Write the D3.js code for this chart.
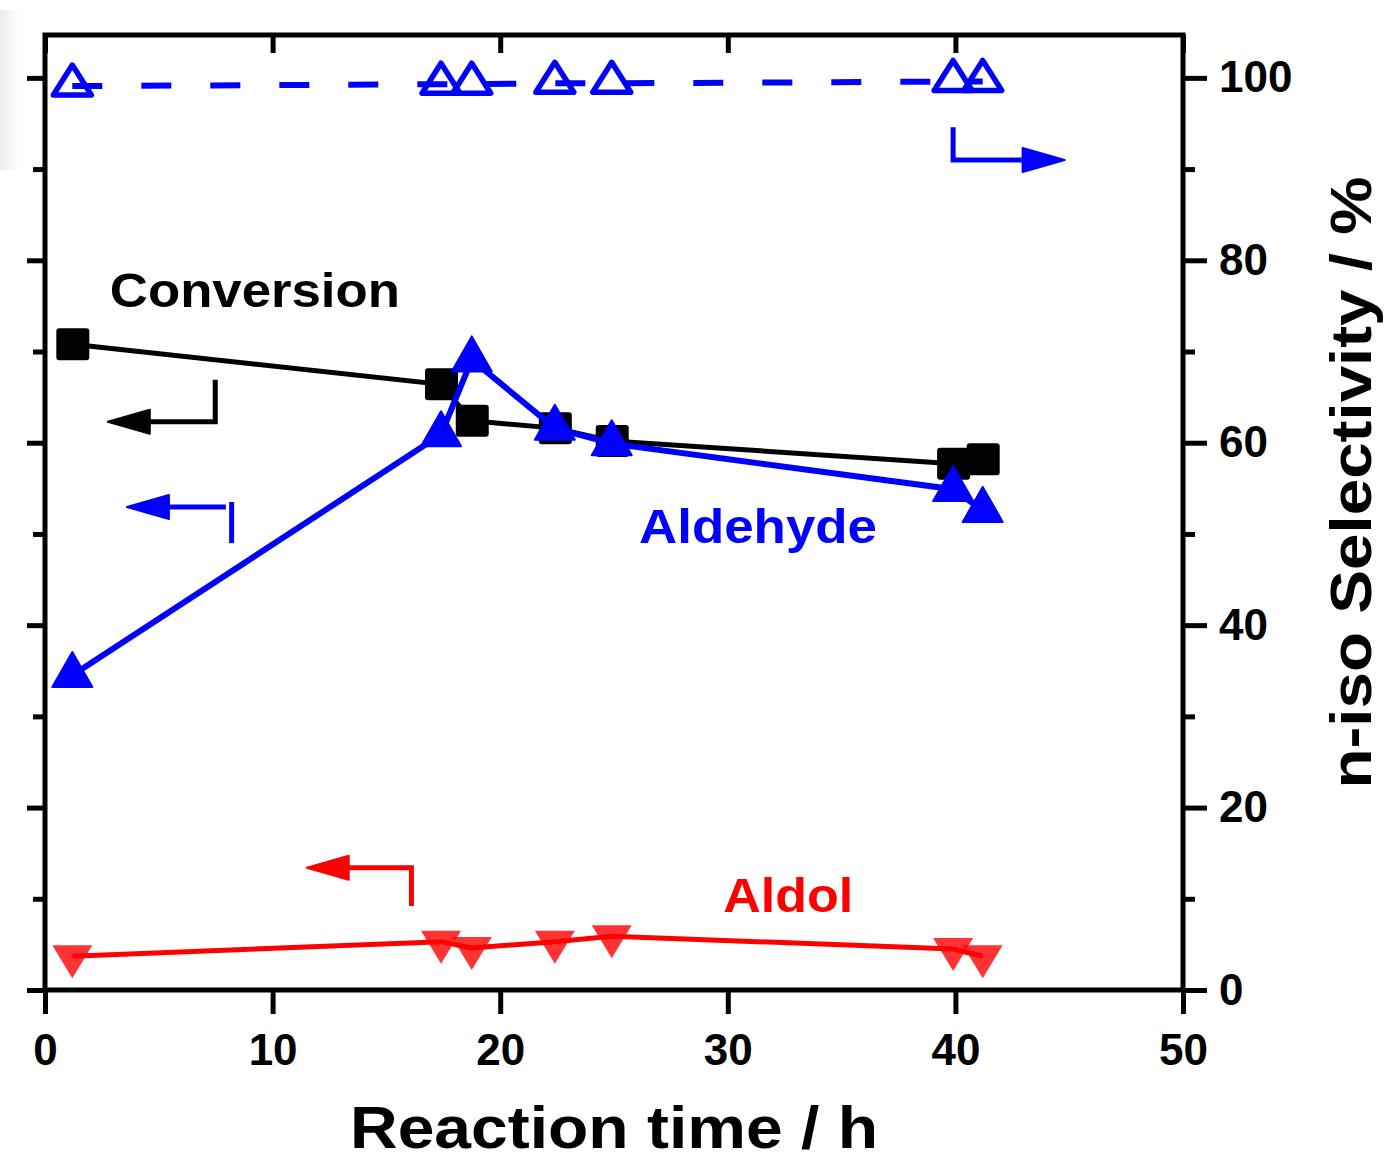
<!DOCTYPE html>
<html><head><meta charset="utf-8">
<script src="https://cdn.jsdelivr.net/npm/d3@7"></script>
<style>body{margin:0;background:#fff;} svg{display:block}</style>
</head><body><svg id="c" width="1385" height="1161"></svg>
<script>
// ---- data ----
const times      = [1.2, 17.4, 18.75, 22.4, 24.9, 39.9, 41.2];
const conversion = [70.8, 66.4, 62.4, 61.6, 60.2, 57.7, 58.2];
const aldehyde   = [34.5, 60.9, 69.1, 61.6, 59.9, 54.9, 52.6];
const aldol      = [3.7, 5.3, 4.6, 5.3, 5.9, 4.5, 3.7];
const nisoSel    = [99.1, 99.3, 99.3, 99.4, 99.4, 99.6, 99.6];
const xTicks  = [0, 10, 20, 30, 40, 50];
const yMajor  = [0, 20, 40, 60, 80, 100];
const yMinor  = [10, 30, 50, 70, 90];
const xTitle = "Reaction time / h";
const yTitle = "n-iso Selectivity / %";

const svg = d3.select("#c");
const L = 45, R = 1183, T = 35, B = 990;
const x = d3.scaleLinear().domain([0, 50]).range([L, R]);
const y = d3.scaleLinear().domain([0, 104.7]).range([B, T]);
const font = "'Liberation Sans', Arial, sans-serif";

// faint gray artifact at top-left
const defs = svg.append("defs");
const g0 = defs.append("linearGradient").attr("id","gl").attr("x1",0).attr("x2",1);
g0.append("stop").attr("offset",0).attr("stop-color","#ececec");
g0.append("stop").attr("offset",1).attr("stop-color","#ffffff");
svg.append("rect").attr("x",0).attr("y",10).attr("width",20).attr("height",160).attr("fill","url(#gl)");

// ---- axes ----
function styleAxis(g){ g.select(".domain").remove(); g.selectAll("line").attr("stroke","#000").attr("stroke-width",5); }
svg.append("g").attr("transform",`translate(${L},0)`).call(d3.axisLeft(y).tickValues(yMajor).tickSize(18).tickFormat("")).call(styleAxis);
svg.append("g").attr("transform",`translate(${L},0)`).call(d3.axisLeft(y).tickValues(yMinor).tickSize(12).tickFormat("")).call(styleAxis);
const ra = svg.append("g").attr("transform",`translate(${R},0)`).call(d3.axisRight(y).tickValues(yMajor).tickSize(24).tickPadding(12)).call(styleAxis);
svg.append("g").attr("transform",`translate(${R},0)`).call(d3.axisRight(y).tickValues(yMinor).tickSize(12).tickFormat("")).call(styleAxis);
const ba = svg.append("g").attr("transform",`translate(0,${B})`).call(d3.axisBottom(x).tickValues(xTicks).tickSize(24).tickPadding(20)).call(styleAxis);
svg.append("g").attr("transform",`translate(0,${T})`).call(d3.axisBottom(x).tickValues(xTicks).tickSize(18).tickFormat("")).call(styleAxis);
[ra, ba].forEach(g => g.selectAll("text").attr("font-family",font).attr("font-weight","bold").attr("font-size",44).attr("fill","#000"));

svg.append("rect").attr("x",L).attr("y",T).attr("width",R-L).attr("height",B-T)
  .attr("fill","none").attr("stroke","#000").attr("stroke-width",5);

// titles
svg.append("text").attr("x",(x(0)+x(50))/2).attr("y",1148).attr("text-anchor","middle")
  .attr("font-family",font).attr("font-weight","bold").attr("font-size",60)
  .attr("textLength",528).attr("lengthAdjust","spacingAndGlyphs").text(xTitle);
svg.append("text").attr("transform",`translate(1371,${(T+B)/2-30}) rotate(-90)`).attr("text-anchor","middle")
  .attr("font-family",font).attr("font-weight","bold").attr("font-size",58)
  .attr("textLength",612).attr("lengthAdjust","spacingAndGlyphs").text(yTitle);

// ---- series ----
const pts = arr => times.map((t,i)=>[t, arr[i]]);
const line = d3.line().x(d=>x(d[0])).y(d=>y(d[1]));
function tri(w, h, down){ // centroid-centered triangle
  const a = down ? 2*h/3 : -2*h/3, b = down ? -h/3 : h/3;
  return `M0,${a}L${w/2},${b}L${-w/2},${b}Z`;
}

// n-iso selectivity (dashed, open triangles)
svg.append("path").datum(pts(nisoSel)).attr("d",line).attr("fill","none")
  .attr("stroke","#0000ff").attr("stroke-width",6).attr("stroke-dasharray","30 39");
svg.selectAll(".ot").data(pts(nisoSel)).join("path")
  .attr("transform",d=>`translate(${x(d[0])},${y(d[1])-1})`).attr("d",tri(38,30,false))
  .attr("fill","none").attr("stroke","#0000ff").attr("stroke-width",5.5).attr("stroke-linejoin","round");

// conversion
svg.append("path").datum(pts(conversion)).attr("d",line).attr("fill","none").attr("stroke","#000").attr("stroke-width",5);
svg.selectAll(".sq").data(pts(conversion)).join("rect")
  .attr("x",d=>x(d[0])-16).attr("y",d=>y(d[1])-16).attr("width",33).attr("height",32).attr("rx",3).attr("fill","#000");

// aldehyde
svg.append("path").datum(pts(aldehyde)).attr("d",line).attr("fill","none").attr("stroke","#0000ff").attr("stroke-width",6);
svg.selectAll(".ft").data(pts(aldehyde)).join("path")
  .attr("transform",d=>`translate(${x(d[0])},${y(d[1])})`).attr("d",tri(40,35,false))
  .attr("fill","#0000ff").attr("stroke","#0000ff").attr("stroke-width",2).attr("stroke-linejoin","round");

// aldol
svg.append("path").datum(pts(aldol)).attr("d",line).attr("fill","none").attr("stroke","#ff0000").attr("stroke-width",5);
svg.selectAll(".dt").data(pts(aldol)).join("path")
  .attr("transform",d=>`translate(${x(d[0])},${y(d[1])})`).attr("d",tri(40,33,true))
  .attr("fill","#ff0000").attr("fill-opacity",0.8);

// ---- annotations (data coordinates) ----
function arrow(pointsData, color, dir){
  const p = pointsData.map(d=>[x(d[0]), y(d[1])]);
  const tip = p[p.length-1];
  const hl = 42, hw = 12;
  const s = dir === "left" ? 1 : -1;
  const shaft = p.slice(); shaft[shaft.length-1] = [tip[0]+s*(hl-4), tip[1]];
  svg.append("path").attr("d", d3.line()(shaft)).attr("fill","none").attr("stroke",color).attr("stroke-width",5);
  svg.append("path").attr("d",`M${tip[0]},${tip[1]}L${tip[0]+s*hl},${tip[1]-hw}L${tip[0]+s*hl},${tip[1]+hw}Z`)
    .attr("fill",color).attr("stroke",color).attr("stroke-width",2).attr("stroke-linejoin","round");
}
arrow([[7.48,66.9],[7.48,62.3],[2.76,62.3]], "#000", "left");
arrow([[7.95,52.95],[3.6,52.95]], "#0000ff", "left");
svg.append("line").attr("x1",x(8.2)).attr("x2",x(8.2)).attr("y1",y(53.5)).attr("y2",y(49.0)).attr("stroke","#0000ff").attr("stroke-width",5);
arrow([[16.1,9.2],[16.1,13.4],[11.5,13.4]], "#ff0000", "left");
arrow([[39.9,94.6],[39.9,91.0],[44.8,91.0]], "#0000ff", "right");

function label(t, xv, yv, len, color){
  svg.append("text").attr("x",x(xv)).attr("y",y(yv)).attr("font-family",font).attr("font-weight","bold")
    .attr("font-size",48).attr("fill",color).attr("textLength",len).attr("lengthAdjust","spacingAndGlyphs").text(t);
}
label("Conversion", 2.85, 74.9, 290, "#000");
label("Aldehyde", 26.1, 49.0, 238, "#0000ff");
label("Aldol", 29.8, 8.55, 130, "#ff0000");
</script></body></html>
